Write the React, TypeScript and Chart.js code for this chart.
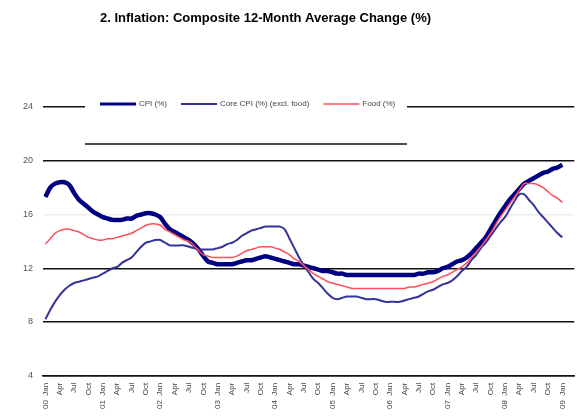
import React, { useEffect, useRef } from 'react';
import { Chart, registerables } from 'chart.js';

Chart.register(...registerables);

const TITLE = '2. Inflation: Composite 12-Month Average Change (%)';
const YEARS = ['2000', '2001', '2002', '2003', '2004', '2005', '2006', '2007', '2008', '2009'];
const MONTHS = ['Jan', 'Feb', 'Mar', 'Apr', 'May', 'Jun', 'Jul', 'Aug', 'Sep', 'Oct', 'Nov', 'Dec'];
const SERIES_NAMES = ['CPI (%)', 'Core CPI (%) (excl. food)', 'Food (%)'];
const Y_MIN = 4;
const Y_MAX = 24;
const Y_STEP = 4;

const composite = [
  17.3, 18.0, 18.3, 18.4, 18.4, 18.2, 17.6, 17.1, 16.8, 16.5, 16.2, 16.0,
  15.8, 15.7, 15.6, 15.6, 15.6, 15.7, 15.7, 15.9, 16.0, 16.1, 16.1, 16.0,
  15.8, 15.3, 14.9, 14.7, 14.5, 14.3, 14.1, 13.8, 13.4, 12.9, 12.5, 12.4,
  12.3, 12.3, 12.3, 12.3, 12.4, 12.5, 12.6, 12.6, 12.7, 12.8, 12.9, 12.8,
  12.7, 12.6, 12.5, 12.4, 12.3, 12.3, 12.2, 12.1, 12.0, 11.9, 11.8, 11.8,
  11.7, 11.6, 11.6, 11.5, 11.5, 11.5, 11.5, 11.5, 11.5, 11.5, 11.5, 11.5,
  11.5, 11.5, 11.5, 11.5, 11.5, 11.5, 11.6, 11.6, 11.7, 11.7, 11.8, 12.0,
  12.1, 12.3, 12.5, 12.6, 12.8, 13.1, 13.5, 13.9, 14.3, 14.9, 15.5, 16.1,
  16.6, 17.1, 17.5, 17.9, 18.3, 18.5, 18.7, 18.9, 19.1, 19.2, 19.4, 19.5,
  19.7,
];

const core = [
  8.2, 8.9, 9.5, 10.0, 10.4, 10.7, 10.9, 11.0, 11.1, 11.2, 11.3, 11.4,
  11.6, 11.8, 12.0, 12.1, 12.4, 12.6, 12.8, 13.2, 13.6, 13.9, 14.0, 14.1,
  14.1, 13.9, 13.7, 13.7, 13.7, 13.7, 13.6, 13.5, 13.4, 13.4, 13.4, 13.4,
  13.5, 13.6, 13.8, 13.9, 14.1, 14.4, 14.6, 14.8, 14.9, 15.0, 15.1, 15.1,
  15.1, 15.1, 14.9, 14.2, 13.5, 12.8, 12.2, 11.7, 11.2, 10.9, 10.5, 10.1,
  9.8, 9.7, 9.8, 9.9, 9.9, 9.9, 9.8, 9.7, 9.7, 9.7, 9.6, 9.5,
  9.5, 9.5, 9.5, 9.6, 9.7, 9.8, 9.9, 10.1, 10.3, 10.4, 10.6, 10.8,
  10.9, 11.1, 11.4, 11.8, 12.1, 12.6, 13.0, 13.5, 13.9, 14.4, 14.9, 15.4,
  15.8, 16.4, 17.0, 17.5, 17.5, 17.1, 16.7, 16.2, 15.8, 15.4, 15.0, 14.6,
  14.3,
];

const food = [
  13.8, 14.2, 14.6, 14.8, 14.9, 14.9, 14.8, 14.7, 14.5, 14.3, 14.2, 14.1,
  14.1, 14.2, 14.2, 14.3, 14.4, 14.5, 14.6, 14.8, 15.0, 15.2, 15.3, 15.3,
  15.2, 14.9, 14.7, 14.5, 14.3, 14.1, 14.0, 13.7, 13.3, 13.0, 12.9, 12.8,
  12.8, 12.8, 12.8, 12.8, 12.9, 13.1, 13.3, 13.4, 13.5, 13.6, 13.6, 13.6,
  13.5, 13.4, 13.2, 13.0, 12.7, 12.5, 12.2, 11.9, 11.6, 11.4, 11.2, 11.0,
  10.9, 10.8, 10.7, 10.6, 10.5, 10.5, 10.5, 10.5, 10.5, 10.5, 10.5, 10.5,
  10.5, 10.5, 10.5, 10.5, 10.6, 10.6, 10.7, 10.8, 10.9, 11.0, 11.2, 11.4,
  11.5, 11.7, 11.9, 12.1, 12.4, 12.8, 13.2, 13.6, 14.1, 14.6, 15.2, 15.8,
  16.3, 16.8, 17.3, 17.8, 18.3, 18.3, 18.3, 18.2, 18.0, 17.7, 17.4, 17.2,
  16.9,
];

const categories: string[] = [];
for (let y = 0; y < 9; y++) {
  for (let m = 0; m < 12; m++) categories.push(`${MONTHS[m]} ${YEARS[y]}`);
}
categories.push(`${MONTHS[0]} ${YEARS[9]}`, `${MONTHS[1]} ${YEARS[9]}`, `${MONTHS[2]} ${YEARS[9]}`);

const FONT = '"Liberation Sans", Arial, sans-serif';

const boxLegend = {
  id: 'boxLegend',
  afterDraw(chart: any) {
    const { ctx, chartArea } = chart;
    // title
    ctx.save();
    ctx.font = `bold 13px ${FONT}`;
    ctx.fillStyle = '#000000';
    ctx.textAlign = 'center';
    ctx.textBaseline = 'middle';
    ctx.fillText(TITLE, chart.width / 2 - 24, 18);

    const left = chartArea.left + 42;
    const right = chartArea.left + 364;
    const top = chartArea.top - 10;
    const bottom = chartArea.top + 37;
    ctx.fillStyle = '#ffffff';
    ctx.fillRect(left, top, right - left, bottom - top);
    ctx.strokeStyle = '#111111';
    ctx.lineWidth = 1.5;
    ctx.beginPath();
    ctx.moveTo(left, bottom);
    ctx.lineTo(right, bottom);
    ctx.stroke();
    ctx.font = `8px ${FONT}`;
    ctx.textBaseline = 'middle';
    ctx.textAlign = 'left';
    const y = chartArea.top - 3;
    let x = left + 15;
    chart.data.datasets.forEach((ds: any) => {
      ctx.strokeStyle = ds.borderColor;
      ctx.lineWidth = Math.min(ds.borderWidth, 3);
      ctx.beginPath();
      ctx.moveTo(x, y);
      ctx.lineTo(x + 36, y);
      ctx.stroke();
      x += 39;
      ctx.fillStyle = '#444444';
      ctx.fillText(ds.label, x, y);
      x += ctx.measureText(ds.label).width + 14;
    });
    ctx.restore();
  },
};

export default function App() {
  const ref = useRef<HTMLCanvasElement>(null);
  useEffect(() => {
    document.body.style.margin = '0';
    const chart = new Chart(ref.current as HTMLCanvasElement, {
      type: 'line',
      data: {
        labels: categories,
        datasets: [
          { label: SERIES_NAMES[0], data: composite, borderColor: '#000080', borderWidth: 4.5, pointRadius: 0, tension: 0.3, order: 3 },
          { label: SERIES_NAMES[1], data: core, borderColor: '#33339a', borderWidth: 2, pointRadius: 0, tension: 0.3, order: 2 },
          { label: SERIES_NAMES[2], data: food, borderColor: '#ff4f5a', borderWidth: 1.5, pointRadius: 0, tension: 0.3, order: 1 },
        ],
      },
      options: {
        animation: false,
        responsive: false,
        layout: { padding: { left: 13, right: 2, top: 107, bottom: 2 } },
        plugins: {
          legend: { display: false },
          tooltip: { enabled: false },
          title: { display: false },
        },
        scales: {
          x: {
            offset: true,
            grid: { display: false, drawTicks: false },
            border: { display: true, color: '#111111', width: 1.5 },
            ticks: {
              autoSkip: false,
              minRotation: 90,
              maxRotation: 90,
              padding: 7,
              color: '#444444',
              font: { family: FONT, size: 8 },
              callback: (_v: any, i: number) => {
                const m = i % 12;
                const y = Math.floor(i / 12);
                if (i > 108 || m % 3 !== 0) return null;
                if (m === 0) return `${YEARS[y].slice(2)}  ${MONTHS[m]}`;
                return MONTHS[m];
              },
            },
          },
          y: {
            min: Y_MIN,
            max: Y_MAX,
            grid: {
              drawTicks: false,
              lineWidth: 1.5,
              color: (c: any) => (c.tick && c.tick.value === 16 ? '#eeeeee' : '#111111'),
            },
            border: { display: false },
            ticks: {
              stepSize: Y_STEP,
              padding: 10,
              color: '#555555',
              font: { family: FONT, size: 9 },
            },
          },
        },
      },
      plugins: [boxLegend],
    });
    return () => chart.destroy();
  }, []);
  return (
    <div style={{ width: 579, height: 418 }}>
      <canvas ref={ref} width={579} height={418} style={{ display: 'block' }} />
    </div>
  );
}
